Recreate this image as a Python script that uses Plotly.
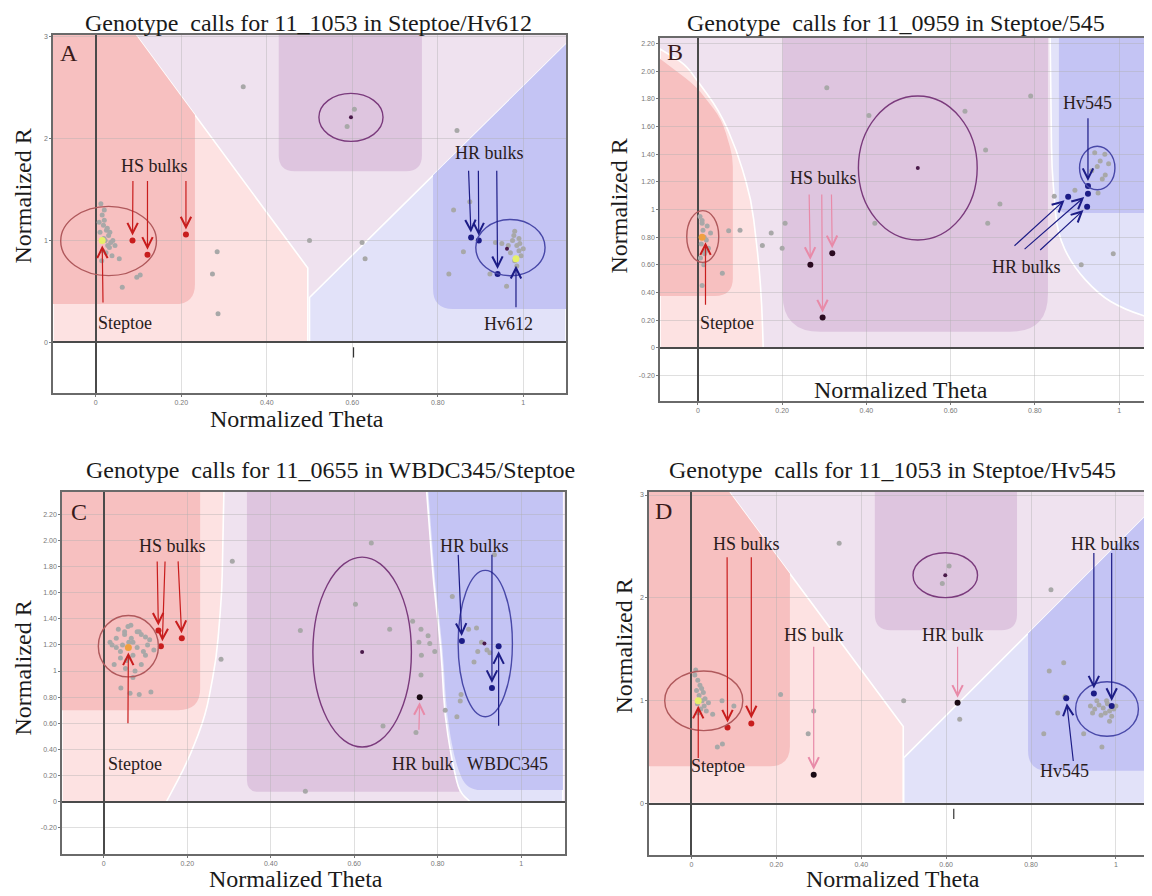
import math
import plotly.graph_objects as go

W, H = 1152, 896
OFF = 8                      # page body margin of the browser
FW, FH = W - OFF, H - OFF    # figure size so it fits the window

# ===================== DATA =====================
X_TICKS = [0, 0.2, 0.4, 0.6, 0.8, 1]
X_TICKTEXT = ["0", "0.20", "0.40", "0.60", "0.80", "1"]
Y_TICKS_INT = [0, 1, 2, 3]
Y_TICKTEXT_INT = ["0", "1", "2", "3"]
Y_TICKS_DEC = [-0.2, 0, 0.2, 0.4, 0.6, 0.8, 1, 1.2, 1.4, 1.6, 1.8, 2.0, 2.2]
Y_TICKTEXT_DEC = ["-0.20", "0", "0.20", "0.40", "0.60", "0.80", "1", "1.20", "1.40",
                  "1.60", "1.80", "2.00", "2.20"]

TITLES = ["Genotype\u00a0 calls for 11_1053 in Steptoe/Hv612",
          "Genotype\u00a0 calls for 11_0959 in Steptoe/545",
          "Genotype\u00a0 calls for 11_0655 in WBDC345/Steptoe",
          "Genotype\u00a0 calls for 11_1053 in Steptoe/Hv545"]
LETTERS = ["A", "B", "C", "D"]

# ---------- Panel A ----------
A_gray_x = [0.012, 0.015, 0.02, 0.018, 0.025, 0.03, 0.022, 0.028, 0.035, 0.01, 0.016, 0.024,
            0.032, 0.04, 0.02, 0.014, 0.027, 0.038, 0.045, 0.019, 0.008, 0.033,
            0.055, 0.096, 0.104, 0.062,
            0.345, 0.284, 0.273, 0.286, 0.5, 0.623, 0.63, 0.845, 0.875, 0.837, 0.86, 0.826,
            0.922, 0.961, 0.605, 0.588,
            0.98, 0.975, 0.985, 0.99, 0.97, 0.995, 0.98, 0.965, 0.99, 1.0, 0.95, 0.935,
            0.985, 0.992, 0.978]
A_gray_y = [1.36, 1.25, 1.2, 1.15, 1.1, 1.05, 1.0, 0.95, 0.98, 1.08, 0.9, 0.88,
            0.93, 1.0, 1.3, 0.8, 1.12, 0.85, 0.95, 1.02, 1.18, 1.08,
            0.82, 0.64, 0.66, 0.54,
            2.51, 0.89, 0.67, 0.28, 1.0, 0.98, 0.82, 2.08, 1.38, 1.3, 0.89, 0.67,
            0.67, 0.55, 2.29, 2.12,
            1.09, 1.0, 0.95, 0.9, 0.88, 0.85, 0.8, 0.95, 1.02, 0.92, 0.97, 0.98,
            0.75, 0.97, 1.05]
A_parent_x = [0.015, 0.983]
A_parent_y = [1.0, 0.82]
A_center_x = [0.597, 0.962]
A_center_y = [2.21, 0.92]
A_hs_x = [0.086, 0.121, 0.211]
A_hs_y = [1.0, 0.86, 1.06]
A_hr_x = [0.878, 0.896, 0.94]
A_hr_y = [1.03, 1.0, 0.67]
A_ell = [(0.03, 0.995, 0.112, 0.34), (0.597, 2.21, 0.075, 0.236), (0.97, 0.93, 0.081, 0.277)]
A_reg = {
    "pink": ([-0.1, 0.496, 0.496, 0.094, -0.1], [0, 0, 0.73, 3.02, 3.02]),
    "salmon": ([-0.1, 0.232, 0.232, 0.094, -0.1], [0.375, 0.375, 2.234, 3.02, 3.02]),
    "purple": ([0.428, 0.428, 0.763, 0.763], [3.02, 1.68, 1.68, 3.02]),
    "lblue": ([0.5, 0.5, 1.1, 1.1], [0, 0.44, 2.93, 0]),
    "blue": ([0.789, 1.1, 1.1, 0.789], [0.327, 0.327, 2.93, 1.64]),
}
# arrows: (tail_x, tail_y, tip_x, tip_y)
A_arrows_red = [(0.087, 1.6, 0.086, 1.0), (0.121, 1.6, 0.121, 0.86), (0.211, 1.6, 0.211, 1.06),
                (0.017, 0.375, 0.015, 1.0)]
A_arrows_navy = [(0.872, 1.7, 0.878, 1.03), (0.895, 1.7, 0.896, 1.0), (0.938, 1.7, 0.94, 0.67),
                 (0.983, 0.33, 0.983, 0.8)]
A_arrows_pink = []
A_labels = [("HS bulks", 0.138, 1.73), ("Steptoe", 0.069, 0.19), ("HR bulks", 0.92, 1.86),
            ("Hv612", 0.965, 0.18)]
A_tick = (0.603, -0.05, -0.15)

# ---------- Panel B ----------
B_gray_x = [0.005, 0.01, 0.012, 0.015, 0.008, 0.02, 0.018, 0.025, 0.006, 0.014, 0.022, 0.03,
            0.01, 0.016,
            0.058, 0.01, 0.073, 0.1, 0.174, 0.153, 0.2, 0.207, 0.306, 0.406, 0.42, 0.634,
            0.683, 0.717, 0.688, 0.79, 0.846, 0.895, 0.91, 0.986, 0.95,
            0.942, 0.966, 0.948, 0.967, 0.955, 0.935, 0.975, 0.96]
B_gray_y = [0.95, 0.9, 0.85, 0.8, 0.75, 0.78, 0.7, 0.72, 0.65, 0.6, 0.88, 0.83,
            0.92, 0.68,
            0.54, 0.45, 0.846, 0.85, 0.83, 0.74, 0.72, 0.9, 1.88, 1.68, 0.9, 1.71,
            1.43, 1.04, 0.9, 1.82, 1.095, 1.14, 0.6, 0.68, 1.12,
            1.41, 1.4, 1.31, 1.25, 1.35, 1.28, 1.33, 1.22]
B_parent_x = [0.01]
B_parent_y = [0.8]
B_center_x = [0.522]
B_center_y = [1.3]
B_hs_x = [0.267, 0.319, 0.296]
B_hs_y = [0.6, 0.684, 0.22]
B_hr_x = [0.879, 0.926, 0.924, 0.926]
B_hr_y = [1.092, 1.114, 1.02, 1.17]
B_ell = [(0.0115, 0.805, 0.038, 0.187), (0.522, 1.3, 0.141, 0.52), (0.948, 1.3, 0.042, 0.157)]
B_reg = {
    "pink": ([-0.09, 0.155, 0.152, 0.145, 0.127, 0.092, 0.05, -0.004, -0.03, -0.09],
             [0, 0, 0.3, 0.6, 1.07, 1.43, 1.72, 1.94, 2.05, 2.16]),
    "salmon": ([-0.09, 0.083, 0.083, 0.057, -0.004, -0.09],
               [0.375, 0.375, 1.38, 1.65, 1.89, 2.09]),
    "purple": ([0.201, 0.201, 0.831, 0.831], [2.3, 0.116, 0.116, 2.3]),
    "lblue": ([0.836, 0.84, 0.853, 0.888, 0.95, 1.01, 1.1, 1.1],
              [2.3, 1.31, 0.83, 0.6, 0.39, 0.28, 0.19, 2.3]),
    "blue": ([0.857, 0.857, 1.1, 1.1], [2.3, 0.975, 0.975, 2.3]),
}
B_arrows_red = [(0.018, 0.3, 0.018, 0.8)]
B_arrows_navy = [(0.748, 0.728, 0.879, 1.092), (0.772, 0.704, 0.926, 1.114),
                 (0.809, 0.697, 0.924, 1.02), (0.926, 1.67, 0.926, 1.17)]
B_arrows_pink = [(0.264, 1.12, 0.267, 0.6), (0.294, 1.12, 0.296, 0.22), (0.317, 1.12, 0.319, 0.684)]
B_labels = [("HS bulks", 0.298, 1.23), ("Steptoe", 0.068, 0.18), ("HR bulks", 0.781, 0.587),
            ("Hv545", 0.926, 1.77)]
B_tick = None

# ---------- Panel C ----------
C_gray_x = [0.02, 0.03, 0.04, 0.05, 0.06, 0.07, 0.08, 0.09, 0.1, 0.11, 0.025, 0.035, 0.045,
            0.055, 0.065, 0.075, 0.085, 0.095, 0.105, 0.03, 0.05, 0.07, 0.09, 0.04, 0.06,
            0.08, 0.1, 0.12, 0.015, 0.058, 0.066, 0.052,
            0.041, 0.063, 0.085, 0.113, 0.07,
            0.308, 0.281, 0.641, 0.603, 0.471, 0.685, 0.483, 0.669, 0.748, 0.74, 0.76,
            0.777, 0.781, 0.793, 0.761, 0.76, 0.755, 0.818, 0.846, 0.835, 0.874, 0.893,
            0.856, 0.854, 0.887, 0.896, 0.936, 0.905, 0.918, 0.925]
C_gray_y = [1.2, 1.25, 1.15, 1.3, 1.1, 1.22, 1.18, 1.28, 1.12, 1.24, 1.05, 1.32, 1.2,
            1.08, 1.35, 1.0, 1.3, 1.15, 1.2, 1.18, 1.28, 1.12, 1.05, 1.1, 1.22,
            1.3, 1.26, 1.16, 1.22, 1.34, 1.25, 1.02,
            0.87, 0.83, 0.82, 0.84, 0.95,
            1.84, 1.09, 1.98, 1.51, 1.31, 1.32, 0.08, 0.58, 0.53, 1.38, 1.32,
            1.27, 1.21, 1.15, 1.12, 0.97, 1.22, 0.7, 0.65, 1.57, 1.32, 1.33,
            0.82, 0.77, 1.07, 1.15, 1.89, 1.22, 1.16, 1.14]
C_parent_x = [0.059, 0.946]
C_parent_y = [1.18, 1.19]
C_center_x = [0.619, 0.912]
C_center_y = [1.145, 1.21]
C_hs_x = [0.131, 0.137, 0.187]
C_hs_y = [1.31, 1.19, 1.25]
C_black_x = [0.757]
C_black_y = [0.8]
C_hr_x = [0.858, 0.93]
C_hr_y = [1.23, 0.87]
C_ell = [(0.059, 1.19, 0.072, 0.235), (0.619, 1.145, 0.118, 0.726), (0.914, 1.21, 0.065, 0.56)]
C_reg = {
    "pink": ([-0.1, 0.15, 0.2, 0.244, 0.27, 0.283, 0.288, -0.1],
             [0, 0, 0.3, 0.66, 1.1, 1.6, 2.4, 2.4]),
    "salmon": ([-0.1, 0.231, 0.231, -0.1], [0.7, 0.7, 2.4, 2.4]),
    "purple": ([0.343, 0.343, 0.852, 0.835, 0.817, 0.808, 0.79, 0.773],
               [2.4, 0.076, 0.076, 0.3, 0.66, 1.17, 1.68, 2.4]),
    "lblue": ([0.773, 0.79, 0.808, 0.817, 0.835, 0.852, 0.878, 1.1, 1.1],
              [2.4, 1.68, 1.17, 0.66, 0.3, 0.076, 0, 0, 2.4]),
    "blue": ([0.777, 0.794, 0.812, 0.822, 0.842, 0.87, 1.1, 1.1],
             [2.4, 1.68, 1.17, 0.66, 0.3, 0.09, 0.09, 2.4]),
}
C_arrows_red = [(0.128, 1.85, 0.131, 1.31), (0.147, 1.85, 0.14, 1.19), (0.178, 1.85, 0.187, 1.25),
                (0.058, 0.59, 0.059, 1.18)]
C_arrows_navy = [(0.849, 1.9, 0.858, 1.23), (0.93, 1.9, 0.93, 0.87), (0.946, 0.57, 0.946, 1.19)]
C_arrows_pink = [(0.755, 0.54, 0.757, 0.8)]
C_labels = [("HS bulks", 0.165, 1.96), ("Steptoe", 0.075, 0.29), ("HR bulk", 0.764, 0.29),
            ("HR bulks", 0.887, 1.96), ("WBDC345", 0.967, 0.29)]
C_tick = None

# ---------- Panel D ----------
D_gray_x = [0.01, 0.015, 0.02, 0.012, 0.018, 0.025, 0.03, 0.022, 0.028, 0.035, 0.008, 0.016,
            0.024, 0.04, 0.014, 0.032,
            0.072, 0.05, 0.061, 0.073, 0.1,
            0.348, 0.21, 0.5, 0.288, 0.275, 0.632, 0.847, 0.877, 0.843, 0.88, 0.863, 0.83,
            0.924, 0.967, 0.607, 0.591,
            0.94, 0.95, 0.96, 0.97, 0.975, 0.98, 0.985, 0.99, 0.978, 0.965, 0.955, 0.995,
            0.945, 0.985, 1.0]
D_gray_y = [1.3, 1.2, 1.15, 1.1, 1.05, 1.0, 0.95, 0.92, 1.08, 0.9, 1.25, 0.88,
            1.12, 0.98, 0.97, 1.02,
            1.0, 0.87, 0.55, 0.58, 0.95,
            2.53, 1.06, 1.0, 0.9, 0.68, 0.82, 2.08, 1.37, 1.29, 1.04, 0.88, 0.68,
            0.68, 0.55, 2.31, 2.14,
            0.95, 0.92, 0.96, 0.93, 0.88, 0.97, 0.9, 0.85, 1.0, 0.86, 1.0, 0.92,
            0.88, 0.8, 0.95]
D_parent_x = [0.016]
D_parent_y = [1.0]
D_center_x = [0.598]
D_center_y = [2.22]
D_hs_x = [0.085, 0.141]
D_hs_y = [0.74, 0.78]
D_black_x = [0.288, 0.627]
D_black_y = [0.28, 0.98]
D_hr_x = [0.948, 0.99, 0.883]
D_hr_y = [1.07, 0.95, 1.025]
D_ell = [(0.029, 1.0, 0.092, 0.29), (0.598, 2.22, 0.076, 0.218), (0.979, 0.92, 0.074, 0.265)]
D_reg = {
    "pink": ([-0.1, 0.499, 0.499, 0.089, -0.1], [0, 0, 0.75, 3.03, 3.03]),
    "salmon": ([-0.1, 0.232, 0.232, 0.089, -0.1], [0.364, 0.364, 2.235, 3.03, 3.03]),
    "purple": ([0.432, 0.432, 0.767, 0.767], [3.03, 1.686, 1.686, 3.03]),
    "lblue": ([0.5, 0.5, 1.1, 1.1], [0, 0.445, 2.92, 0]),
    "blue": ([0.793, 1.1, 1.1, 0.793], [0.32, 0.32, 2.92, 1.654]),
}
D_arrows_red = [(0.084, 2.41, 0.085, 0.74), (0.141, 2.41, 0.141, 0.78), (0.016, 0.43, 0.016, 1.0)]
D_arrows_navy = [(0.948, 2.45, 0.948, 1.07), (0.99, 2.45, 0.99, 0.95), (0.9, 0.4, 0.883, 1.025)]
D_arrows_pink = [(0.288, 1.54, 0.288, 0.28), (0.627, 1.54, 0.627, 0.98)]
D_labels = [("HS bulks", 0.13, 2.52), ("HS bulk", 0.288, 1.64), ("HR bulk", 0.616, 1.64),
            ("HR bulks", 0.975, 2.52), ("Hv545", 0.879, 0.32), ("Steptoe", 0.063, 0.37)]
D_tick = (0.618, -0.05, -0.15)

# ===================== STYLE / LAYOUT =====================
SERIF = "Liberation Serif"
COL = dict(lav="#efe2ef", pink="#fde2e2", salmon="#f7c0c0", purple="#dec5df",
           lblue="#e2e2f9", blue="#c4c4f4")
GRAY = "#a8a8a8"
RED = "#c81d1d"
NAVY = "#1c1c86"
PINKA = "#e88aa8"
DARK = "#2a0a20"

panels = [
    dict(key="A", ax="x", ay="y", dx=(53, 566), dy=(33, 392), xr=(-0.1, 1.1), yr=(-0.5, 3.02),
         yt=(Y_TICKS_INT, Y_TICKTEXT_INT), ymirror=True,
         gx=A_gray_x, gy=A_gray_y, px=A_parent_x, py=A_parent_y, pcol="#e6f06a",
         cx=A_center_x, cy=A_center_y, hsx=A_hs_x, hsy=A_hs_y, hsc=RED,
         bx=[], by=[], hrx=A_hr_x, hry=A_hr_y, ell=A_ell, reg=A_reg,
         ar=A_arrows_red, an=A_arrows_navy, ap=A_arrows_pink, lab=A_labels, tick=A_tick,
         letter=(-0.062, 2.84), rr={"salmon": {1: 20}, "purple": {1: 16, 2: 16}, "blue": {0: 20}}),
    dict(key="B", ax="x2", ay="y2", dx=(660, 1152), dy=(36, 400), xr=(-0.09, 1.078), yr=(-0.385, 2.24),
         yt=(Y_TICKS_DEC, Y_TICKTEXT_DEC), ymirror=False,
         gx=B_gray_x, gy=B_gray_y, px=B_parent_x, py=B_parent_y, pcol="#f0a040",
         cx=B_center_x, cy=B_center_y, hsx=B_hs_x, hsy=B_hs_y, hsc=DARK,
         bx=[], by=[], hrx=B_hr_x, hry=B_hr_y, ell=B_ell, reg=B_reg,
         ar=B_arrows_red, an=B_arrows_navy, ap=B_arrows_pink, lab=B_labels, tick=B_tick,
         letter=(-0.055, 2.14),
         rr={"salmon": {1: 18, 2: 10, 3: 14, 4: 14}, "purple": {1: 38, 2: 38}, "blue": {1: 8},
             "pink": {2: 20, 3: 20, 4: 20, 5: 20, 6: 20, 7: 20, 8: 12},
             "lblue": {1: 20, 2: 20, 3: 20, 4: 20, 5: 20}}),
    dict(key="C", ax="x3", ay="y3", dx=(62, 565), dy=(491, 854), xr=(-0.1, 1.105), yr=(-0.4, 2.37),
         yt=(Y_TICKS_DEC, Y_TICKTEXT_DEC), ymirror=True,
         gx=C_gray_x, gy=C_gray_y, px=C_parent_x[:1], py=C_parent_y[:1], pcol="#f0a040",
         cx=C_center_x, cy=C_center_y, hsx=C_hs_x, hsy=C_hs_y, hsc=RED,
         bx=C_black_x, by=C_black_y, hrx=C_hr_x + C_parent_x[1:], hry=C_hr_y + C_parent_y[1:],
         ell=C_ell, reg=C_reg,
         ar=C_arrows_red, an=C_arrows_navy, ap=C_arrows_pink, lab=C_labels, tick=C_tick,
         letter=(-0.06, 2.22),
         rr={"salmon": {1: 22}, "purple": {1: 12, 3: 20, 4: 20, 5: 20, 6: 20},
             "pink": {2: 20, 3: 20, 4: 20, 5: 20},
             "lblue": {1: 20, 2: 20, 3: 20, 4: 20, 5: 10},
             "blue": {1: 20, 2: 20, 3: 20, 4: 20, 5: 14}}),
    dict(key="D", ax="x4", ay="y4", dx=(649, 1152), dy=(491, 855), xr=(-0.1, 1.085), yr=(-0.5, 3.03),
         yt=(Y_TICKS_INT, Y_TICKTEXT_INT), ymirror=False,
         gx=D_gray_x, gy=D_gray_y, px=D_parent_x, py=D_parent_y, pcol="#e6f06a",
         cx=D_center_x, cy=D_center_y, hsx=D_hs_x, hsy=D_hs_y, hsc=RED,
         bx=D_black_x, by=D_black_y, hrx=D_hr_x, hry=D_hr_y, ell=D_ell, reg=D_reg,
         ar=D_arrows_red, an=D_arrows_navy, ap=D_arrows_pink, lab=D_labels, tick=D_tick,
         letter=(-0.066, 2.84), rr={"salmon": {1: 20}, "purple": {1: 16, 2: 16}, "blue": {0: 20}}),
]

title_pos = [(308, 21), (896, 21), (330, 469), (892, 469)]
xtitle_pos = [(297, 418), (901, 389), (296, 879), (893, 879)]
ytitle_pos = [(23, 195), (619, 205), (23, 668), (624, 646)]


def fx(px):
    return (px - OFF) / FW


def fy(py):
    return 1 - (py - OFF) / FH


def rounded_path(xs, ys, radii, sx, sy):
    n = len(xs)
    cmds = []
    for i in range(n):
        r = radii.get(i, 0)
        if r == 0:
            cmds.append("L%.5f,%.5f" % (xs[i], ys[i]))
            continue
        pts = []
        for j in (i - 1, (i + 1) % n):
            ddx = (xs[j] - xs[i]) * sx
            ddy = (ys[j] - ys[i]) * sy
            L = math.hypot(ddx, ddy)
            t = min(r, L / 2.0) / L if L > 0 else 0
            pts.append((xs[i] + (xs[j] - xs[i]) * t, ys[i] + (ys[j] - ys[i]) * t))
        cmds.append("L%.5f,%.5f" % pts[0])
        cmds.append("Q%.5f,%.5f %.5f,%.5f" % (xs[i], ys[i], pts[1][0], pts[1][1]))
    cmds[0] = "M" + cmds[0][1:]
    return " ".join(cmds) + " Z"


fig = go.Figure()
shapes = []
annotations = []
layout_axes = {}
tickfont = dict(size=7, color="#777", family="Liberation Sans, Arial")

for k, p in enumerate(panels):
    xa, ya = p["ax"], p["ay"]
    xname = "xaxis" + xa[1:]
    yname = "yaxis" + ya[1:]
    dxp, dyp = p["dx"], p["dy"]
    xdom = [max(0.0, fx(dxp[0])), min(1.0, fx(dxp[1]))]
    ydom = [max(0.0, fy(dyp[1])), min(1.0, fy(dyp[0]))]
    sx = (dxp[1] - dxp[0]) / (p["xr"][1] - p["xr"][0])
    sy = (dyp[1] - dyp[0]) / (p["yr"][1] - p["yr"][0])

    common = dict(showgrid=True, gridcolor="rgba(175,175,175,0.4)", gridwidth=1,
                  zeroline=True, zerolinecolor="#4a4a4a", zerolinewidth=1.6,
                  showline=True, linecolor="#6a6a6a", linewidth=1.6,
                  ticks="outside", ticklen=2, tickcolor="#777", tickfont=tickfont, fixedrange=True)
    layout_axes[xname] = dict(domain=xdom, range=list(p["xr"]), anchor=ya, mirror=True,
                              tickvals=X_TICKS, ticktext=X_TICKTEXT, **common)
    layout_axes[yname] = dict(domain=ydom, range=list(p["yr"]), anchor=xa, mirror=p["ymirror"],
                              tickvals=p["yt"][0], ticktext=p["yt"][1], **common)

    # background regions
    x0, x1 = p["xr"]
    top = p["yr"][1] + 0.05
    shapes.append(dict(type="rect", xref=xa, yref=ya, x0=x0, x1=x1, y0=0, y1=top,
                       fillcolor=COL["lav"], line=dict(width=0), layer="below"))
    for name in ["pink", "salmon", "purple", "lblue", "blue"]:
        xs, ys = p["reg"][name]
        path = rounded_path(xs, ys, p["rr"].get(name, {}), sx, sy)
        lw = 1.6 if name in ("pink", "lblue") else 0
        shapes.append(dict(type="path", xref=xa, yref=ya, path=path, fillcolor=COL[name],
                           line=dict(color="white", width=lw), layer="below"))

    # ellipses
    ecols = ["#b0595c", "#7a3a7c", "#4848a8"]
    for (ex, ey, rx, ry), ec in zip(p["ell"], ecols):
        shapes.append(dict(type="circle", xref=xa, yref=ya, x0=ex - rx, x1=ex + rx,
                           y0=ey - ry, y1=ey + ry, line=dict(color=ec, width=1.4), layer="above"))

    if p["tick"] is not None:
        tx, ty0, ty1 = p["tick"]
        shapes.append(dict(type="line", xref=xa, yref=ya, x0=tx, x1=tx, y0=ty0, y1=ty1,
                           line=dict(color="#333", width=1.2)))

    # points
    def add_pts(xs, ys, size, color):
        fig.add_trace(go.Scatter(x=xs, y=ys, xaxis=xa, yaxis=ya, mode="markers",
                                 marker=dict(size=size, color=color), hoverinfo="skip",
                                 showlegend=False))

    add_pts(p["gx"], p["gy"], 5, GRAY)
    add_pts(p["px"], p["py"], 7, p["pcol"])
    add_pts(p["cx"], p["cy"], 4, "#4a1a4a")
    add_pts(p["hsx"], p["hsy"], 6, p["hsc"])
    add_pts(p["bx"], p["by"], 6, "#1a0a14")
    add_pts(p["hrx"], p["hry"], 6, NAVY)

    # arrows
    for arrows, col in ((p["ar"], RED), (p["an"], NAVY), (p["ap"], PINKA)):
        for (tx, ty, hx, hy) in arrows:
            annotations.append(dict(x=hx, y=hy, ax=tx, ay=ty, xref=xa, yref=ya, axref=xa, ayref=ya,
                                    text="", showarrow=True, arrowhead=5, arrowsize=1.7,
                                    arrowwidth=1.2, arrowcolor=col, standoff=5))
    # labels
    for (txt, lx, ly) in p["lab"]:
        annotations.append(dict(x=lx, y=ly, xref=xa, yref=ya, text=txt, showarrow=False,
                                font=dict(family=SERIF, size=18, color="#2a1c1c")))
    annotations.append(dict(x=p["letter"][0], y=p["letter"][1], xref=xa, yref=ya,
                            text=LETTERS[k], showarrow=False,
                            font=dict(family=SERIF, size=24, color="#3a1a1a")))

    # titles
    tx, ty = title_pos[k]
    annotations.append(dict(x=fx(tx), y=fy(ty), xref="paper", yref="paper", text=TITLES[k],
                            showarrow=False, xanchor="center", yanchor="middle",
                            font=dict(family=SERIF, size=24, color="#1a1a1a")))
    tx, ty = xtitle_pos[k]
    annotations.append(dict(x=fx(tx), y=fy(ty), xref="paper", yref="paper",
                            text="Normalized Theta", showarrow=False, xanchor="center",
                            yanchor="middle", font=dict(family=SERIF, size=24, color="#1a1a1a")))
    tx, ty = ytitle_pos[k]
    annotations.append(dict(x=fx(tx), y=fy(ty), xref="paper", yref="paper",
                            text="Normalized R", showarrow=False, xanchor="center",
                            yanchor="middle", textangle=-90,
                            font=dict(family=SERIF, size=24, color="#1a1a1a")))

fig.update_layout(width=FW, height=FH, margin=dict(l=0, r=0, t=0, b=0),
                  paper_bgcolor="white", plot_bgcolor="white", showlegend=False,
                  shapes=shapes, annotations=annotations, **layout_axes)

fig.write_html("out.html")
